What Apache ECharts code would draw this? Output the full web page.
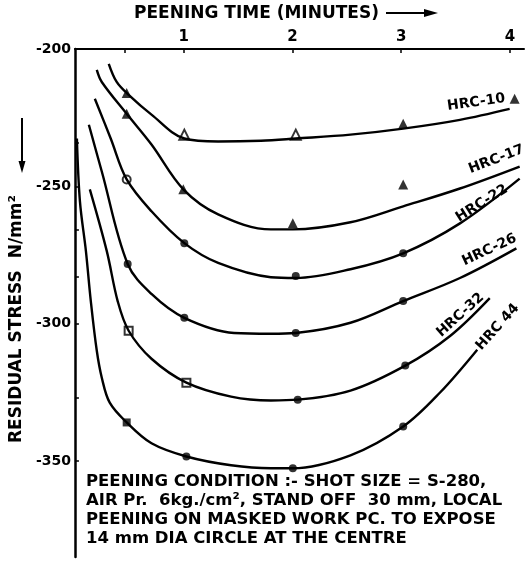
<!DOCTYPE html>
<html><head><meta charset="utf-8">
<script src="https://cdn.jsdelivr.net/npm/echarts@6/dist/echarts.min.js"></script>
<style>html,body{margin:0;padding:0;background:#fff}#c{width:531px;height:562px}</style>
</head><body><div id="c"></div>
<script>
// ---- data ----
const xTickValues = [0.46, 1, 2, 3, 4];
const xLabelValues = [1, 2, 3, 4];
const yLabelValues = [-200, -250, -300, -350];
const yTickValues = [-200, -234, -250, -266, -283, -300, -327, -350];
const curveNames = ['HRC-10', 'HRC-17', 'HRC-22', 'HRC-26', 'HRC-32', 'HRC 44'];

const curveHRC10 = [[0.311,-205.4],[0.384,-212.0],[0.494,-216.7],[0.704,-223.9],[1.006,-232.6],[1.317,-233.7],[1.711,-233.4],[2.031,-232.6],[2.534,-231.2],[3.019,-229.0],[3.541,-225.8],[3.998,-221.8]];
const curveHRC17 = [[0.201,-207.6],[0.247,-212.0],[0.476,-223.6],[0.704,-234.8],[0.997,-251.1],[1.317,-260.2],[1.802,-265.7],[2.004,-265.7],[2.534,-263.1],[3.019,-257.3],[3.541,-250.8],[4.09,-242.8]];
const curveHRC22 = [[0.183,-218.1],[0.329,-232.6],[0.476,-247.5],[0.704,-259.1],[1.006,-270.7],[1.317,-277.9],[1.802,-283.1],[2.031,-283.4],[2.534,-280.2],[3.019,-274.4],[3.541,-263.5],[4.09,-247.2]];
const curveHRC26 = [[0.128,-227.6],[0.247,-244.6],[0.485,-278.3],[0.704,-289.2],[1.006,-297.9],[1.464,-303.4],[1.802,-303.7],[2.031,-303.4],[2.534,-299.7],[3.019,-291.8],[3.541,-283.4],[4.06,-272.6]];
const curveHRC32 = [[0.137,-251.1],[0.293,-273.6],[0.393,-291.8],[0.494,-302.6],[0.704,-312.8],[1.025,-321.5],[1.436,-326.6],[1.802,-328.0],[2.049,-327.7],[2.534,-324.4],[3.038,-315.3],[3.45,-304.5],[3.815,-290.7]];
const curveHRC44 = [[0.018,-232.6],[0.046,-255.5],[0.101,-273.6],[0.146,-291.8],[0.201,-309.9],[0.247,-319.7],[0.320,-328.8],[0.476,-336.0],[0.704,-343.6],[1.025,-348.4],[1.436,-351.6],[1.802,-352.7],[2.004,-352.7],[2.534,-348.0],[3.019,-337.5],[3.358,-325.1],[3.70,-309.5]];

const pointsHRC10 = [[0.476,-216.0],[1.006,-231.2],[2.031,-231.2],[3.019,-227.2],[4.044,-218.1]];
const pointsHRC17 = [[0.476,-223.6],[0.997,-251.1],[2.004,-263.5],[3.019,-249.3]];
const pointsHRC22 = [[0.476,-247.5],[1.006,-270.7],[2.031,-282.7],[3.019,-274.4]];
const pointsHRC26 = [[0.485,-278.3],[1.006,-297.9],[2.031,-303.4],[3.019,-291.8]];
const pointsHRC32 = [[0.494,-302.6],[1.025,-321.5],[2.049,-327.7],[3.038,-315.3]];
const pointsHRC44 = [[0.476,-336.0],[1.025,-348.4],[2.004,-352.7],[3.019,-337.5]];

const noteLines = [
  'PEENING CONDITION :- SHOT SIZE = S-280,',
  'AIR Pr.  6kg./cm², STAND OFF  30 mm, LOCAL',
  'PEENING ON MASKED WORK PC. TO EXPOSE',
  '14 mm DIA CIRCLE AT THE CENTRE'
];

// ---- styling / layout config ----
const FONT = 'DejaVu Sans';
const curves = [curveHRC10, curveHRC17, curveHRC22, curveHRC26, curveHRC32, curveHRC44];
const points = [pointsHRC10, pointsHRC17, pointsHRC22, pointsHRC26, pointsHRC32, pointsHRC44];
const markerStyle = [
  {shape: () => 'triangle', size: 10, hollow: [1, 2]},
  {shape: () => 'triangle', size: 10, hollow: []},
  {shape: () => 'circle', size: 8, hollow: [0]},
  {shape: () => 'circle', size: 8, hollow: []},
  {shape: (i) => i < 2 ? 'rect' : 'circle', size: 8, hollow: [0, 1]},
  {shape: (i) => i < 1 ? 'rect' : 'circle', size: 8, hollow: []}
];
const labelStyle = [
  {rotate: 8,  align: 'right', verticalAlign: 'bottom', offset: [-3, -4]},
  {rotate: 21, align: 'right', verticalAlign: 'bottom', offset: [10, -8]},
  {rotate: 32, align: 'right', verticalAlign: 'bottom', offset: [-16, 8]},
  {rotate: 25, align: 'right', verticalAlign: 'bottom', offset: [4, -3]},
  {rotate: 42, align: 'right', verticalAlign: 'bottom', offset: [-4, 0]},
  {rotate: 48, align: 'left', verticalAlign: 'middle', offset: [2, 0]}
];

const series = [];
curves.forEach((c, k) => {
  const last = c[c.length - 1];
  series.push({
    name: curveNames[k], type: 'line', data: c, smooth: 0.35, symbol: 'none',
    clip: false, silent: true,
    lineStyle: {color: '#000', width: 2.4},
    markPoint: {
      symbol: 'circle', symbolSize: 1, silent: true,
      itemStyle: {color: 'rgba(0,0,0,0)'},
      data: [{coord: last, value: curveNames[k]}],
      label: Object.assign({show: true, position: 'inside', formatter: curveNames[k],
        color: '#000', fontFamily: FONT, fontWeight: 'bold', fontSize: 14}, labelStyle[k])
    }
  });
  const ms = markerStyle[k];
  series.push({
    name: curveNames[k] + ' data', type: 'scatter', clip: false, silent: true,
    data: points[k].map((p, i) => ({
      value: p, symbol: ms.shape(i),
      itemStyle: ms.hollow.includes(i) ? {color: '#fff', borderColor: '#000', borderWidth: 2} : {color: '#000'}
    })),
    symbolSize: ms.size
  });
});

const chart = echarts.init(document.getElementById('c'), null, {renderer: 'canvas'});
chart.setOption({
  animation: false,
  backgroundColor: '#fff',
  grid: {left: 73, right: 7, top: 47, bottom: 5, containLabel: false},
  title: {
    text: noteLines.join('\n'), left: 86, top: 472, padding: 0,
    textStyle: {fontFamily: FONT, fontWeight: 'bold', fontSize: 16.5, lineHeight: 19, color: '#000'}
  },
  xAxis: {
    type: 'value', position: 'top', min: 0, max: 4.13,
    name: 'PEENING TIME (MINUTES)', nameLocation: 'middle', nameGap: 27,
    nameTextStyle: {fontFamily: FONT, fontWeight: 'bold', fontSize: 17, color: '#000', padding: [0, 86, 0, 0]},
    axisLine: {onZero: false, lineStyle: {color: '#000', width: 2}},
    axisTick: {inside: true, length: 4, lineStyle: {color: '#000', width: 1.5}, customValues: xTickValues},
    axisLabel: {customValues: xLabelValues, margin: 4, fontFamily: FONT, fontWeight: 'bold', fontSize: 15, color: '#000'},
    splitLine: {show: false}
  },
  yAxis: {
    type: 'value', min: -385, max: -200,
    name: 'RESIDUAL STRESS  N/mm²', nameLocation: 'middle', nameGap: 40,
    nameTextStyle: {fontFamily: FONT, fontWeight: 'bold', fontSize: 17, color: '#000', padding: [0, 32, 0, 0]},
    axisLine: {onZero: false, lineStyle: {color: '#000', width: 2.5}},
    axisTick: {inside: true, length: 4, lineStyle: {color: '#000', width: 1.5}, customValues: yTickValues},
    axisLabel: {customValues: yLabelValues, margin: 4, fontFamily: FONT, fontWeight: 'bold', fontSize: 14, color: '#000'},
    splitLine: {show: false}
  },
  graphic: [
    {type: 'polyline', shape: {points: [[386, 13], [428, 13]]}, style: {stroke: '#000', lineWidth: 2}},
    {type: 'polygon', shape: {points: [[424, 9], [438, 13], [424, 17]]}, style: {fill: '#000'}},
    {type: 'polyline', shape: {points: [[22, 118], [22, 164]]}, style: {stroke: '#000', lineWidth: 2}},
    {type: 'polygon', shape: {points: [[18.5, 161], [22, 173], [25.5, 161]]}, style: {fill: '#000'}}
  ],
  series: series
});
</script></body></html>
